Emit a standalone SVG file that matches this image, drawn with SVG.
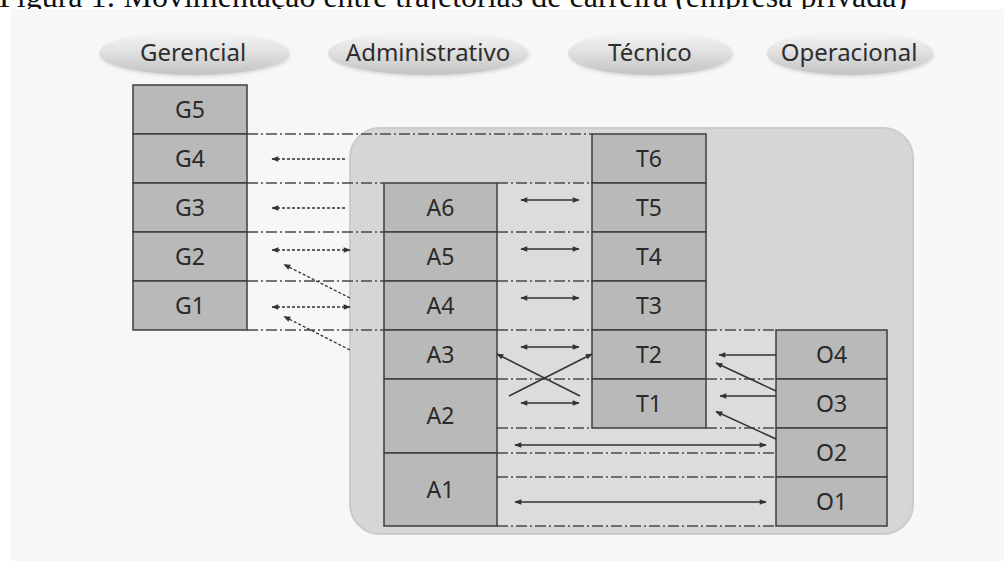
<svg xmlns="http://www.w3.org/2000/svg" width="1004" height="561" viewBox="0 0 1004 561">
<style>
.title{font-family:"Liberation Serif","Times New Roman",serif;font-size:32px;fill:#111}
.hdr{font-family:"Noto Sans","Open Sans",sans-serif;font-size:24px;fill:#2e2e2e;text-anchor:middle}
.lbl{font-family:"Noto Sans","Open Sans",sans-serif;font-size:23px;fill:#2a2a2a;text-anchor:middle}
.box{fill:#b9b9b9;stroke:#3e3e3e;stroke-width:1.5}
.pill{fill:url(#pg)}
.dash{fill:none;stroke:#4a4a4a;stroke-width:1.3;stroke-dasharray:11 3 2 3}
.dot{fill:none;stroke:#333;stroke-width:1.3;stroke-dasharray:3 2}
.sol{fill:none;stroke:#333;stroke-width:1.5}
.corr{fill:#dcdcdc}
</style>
<defs>
<linearGradient id="pg" x1="0" y1="0" x2="0" y2="1">
<stop offset="0" stop-color="#f6f6f6"/>
<stop offset="0.45" stop-color="#e2e2e2"/>
<stop offset="1" stop-color="#c3c3c3"/>
</linearGradient>
<filter id="sh" x="-10%" y="-20%" width="120%" height="150%">
<feGaussianBlur stdDeviation="1.5"/>
</filter>
<marker id="ah" viewBox="0 0 10 10" refX="9" refY="5" markerWidth="8" markerHeight="7" markerUnits="userSpaceOnUse" orient="auto-start-reverse">
<path d="M0,1 L10,5 L0,9 z" fill="#333"/>
</marker>
</defs>

<rect x="0" y="0" width="1004" height="561" fill="#ffffff"/>
<text class="title" x="-1" y="7">Figura 1: Movimentação entre trajetórias de carreira (empresa privada)</text>
<rect x="11" y="9" width="993" height="552" fill="#f7f7f7"/>

<g id="headers">
<g id="h-gerencial">
<ellipse cx="195" cy="55" rx="95" ry="22" fill="#bdbdbd" opacity="0.5" filter="url(#sh)"/>
<ellipse class="pill" cx="194" cy="53" rx="95" ry="22"/>
<text class="hdr" x="193" y="61">Gerencial</text>
</g>
<g id="h-administrativo">
<ellipse cx="429" cy="55" rx="100" ry="22" fill="#bdbdbd" opacity="0.5" filter="url(#sh)"/>
<ellipse class="pill" cx="428" cy="53" rx="100" ry="22"/>
<text class="hdr" x="428" y="61">Administrativo</text>
</g>
<g id="h-tecnico">
<ellipse cx="651" cy="55" rx="82" ry="22" fill="#bdbdbd" opacity="0.5" filter="url(#sh)"/>
<ellipse class="pill" cx="650" cy="53" rx="82" ry="22"/>
<text class="hdr" x="650" y="61">Técnico</text>
</g>
<g id="h-operacional">
<ellipse cx="851" cy="55" rx="83" ry="22" fill="#bdbdbd" opacity="0.5" filter="url(#sh)"/>
<ellipse class="pill" cx="850" cy="53" rx="83" ry="22"/>
<text class="hdr" x="849" y="61">Operacional</text>
</g>
</g>

<g id="background">
<rect x="350" y="128" width="563" height="406" rx="30" fill="#d6d6d6" stroke="#cbcbcb" stroke-width="2"/>
<rect class="corr" x="497" y="183" width="95" height="245"/>
<rect class="corr" x="706" y="330" width="70" height="98"/>
<rect class="corr" x="497" y="428" width="279" height="98"/>
</g>

<g id="gridlines">
<path class="dash" d="M247,134 H592 M247,183 H384 M497,183 H592 M247,232 H384 M497,232 H592 M247,281 H384 M497,281 H592 M247,330 H384 M497,330 H592 M706,330 H776 M497,379 H592 M706,379 H776 M497,428 H592 M706,428 H776 M497,453 H776 M497,477 H776 M497,526 H776"/>
</g>

<g id="node-G5"><rect class="box" x="133" y="85" width="114" height="49"/><text class="lbl" x="190" y="117.5">G5</text></g>
<g id="node-G4"><rect class="box" x="133" y="134" width="114" height="49"/><text class="lbl" x="190" y="166.5">G4</text></g>
<g id="node-G3"><rect class="box" x="133" y="183" width="114" height="49"/><text class="lbl" x="190" y="215.5">G3</text></g>
<g id="node-G2"><rect class="box" x="133" y="232" width="114" height="49"/><text class="lbl" x="190" y="264.5">G2</text></g>
<g id="node-G1"><rect class="box" x="133" y="281" width="114" height="49"/><text class="lbl" x="190" y="313.5">G1</text></g>

<g id="node-A6"><rect class="box" x="384" y="183" width="113" height="49"/><text class="lbl" x="440.5" y="215.5">A6</text></g>
<g id="node-A5"><rect class="box" x="384" y="232" width="113" height="49"/><text class="lbl" x="440.5" y="264.5">A5</text></g>
<g id="node-A4"><rect class="box" x="384" y="281" width="113" height="49"/><text class="lbl" x="440.5" y="313.5">A4</text></g>
<g id="node-A3"><rect class="box" x="384" y="330" width="113" height="49"/><text class="lbl" x="440.5" y="362.5">A3</text></g>
<g id="node-A2"><rect class="box" x="384" y="379" width="113" height="74"/><text class="lbl" x="440.5" y="424">A2</text></g>
<g id="node-A1"><rect class="box" x="384" y="453" width="113" height="73"/><text class="lbl" x="440.5" y="497.5">A1</text></g>

<g id="node-T6"><rect class="box" x="592" y="134" width="114" height="49"/><text class="lbl" x="649" y="166.5">T6</text></g>
<g id="node-T5"><rect class="box" x="592" y="183" width="114" height="49"/><text class="lbl" x="649" y="215.5">T5</text></g>
<g id="node-T4"><rect class="box" x="592" y="232" width="114" height="49"/><text class="lbl" x="649" y="264.5">T4</text></g>
<g id="node-T3"><rect class="box" x="592" y="281" width="114" height="49"/><text class="lbl" x="649" y="313.5">T3</text></g>
<g id="node-T2"><rect class="box" x="592" y="330" width="114" height="49"/><text class="lbl" x="649" y="362.5">T2</text></g>
<g id="node-T1"><rect class="box" x="592" y="379" width="114" height="49"/><text class="lbl" x="649" y="411.5">T1</text></g>

<g id="node-O4"><rect class="box" x="776" y="330" width="111" height="49"/><text class="lbl" x="831.5" y="362.5">O4</text></g>
<g id="node-O3"><rect class="box" x="776" y="379" width="111" height="49"/><text class="lbl" x="831.5" y="411.5">O3</text></g>
<g id="node-O2"><rect class="box" x="776" y="428" width="111" height="49"/><text class="lbl" x="831.5" y="460.5">O2</text></g>
<g id="node-O1"><rect class="box" x="776" y="477" width="111" height="49"/><text class="lbl" x="831.5" y="509.5">O1</text></g>

<g id="connectors">
<line class="dot" x1="345" y1="159" x2="272" y2="159" marker-end="url(#ah)"/>
<line class="dot" x1="345" y1="208" x2="272" y2="208" marker-end="url(#ah)"/>
<line class="dot" x1="272" y1="250" x2="350" y2="250" marker-start="url(#ah)" marker-end="url(#ah)"/>
<line class="dot" x1="350" y1="298" x2="284" y2="264.5" marker-end="url(#ah)"/>
<line class="dot" x1="272" y1="307" x2="350" y2="307" marker-start="url(#ah)" marker-end="url(#ah)"/>
<line class="dot" x1="350" y1="350" x2="284" y2="316.5" marker-end="url(#ah)"/>

<line class="sol" x1="521" y1="200" x2="579" y2="200" marker-start="url(#ah)" marker-end="url(#ah)"/>
<line class="sol" x1="521" y1="249" x2="579" y2="249" marker-start="url(#ah)" marker-end="url(#ah)"/>
<line class="sol" x1="521" y1="298" x2="579" y2="298" marker-start="url(#ah)" marker-end="url(#ah)"/>
<line class="sol" x1="521" y1="347" x2="579" y2="347" marker-start="url(#ah)" marker-end="url(#ah)"/>
<line class="sol" x1="521" y1="403" x2="579" y2="403" marker-start="url(#ah)" marker-end="url(#ah)"/>
<line class="sol" x1="580" y1="396" x2="497" y2="354" marker-end="url(#ah)"/>
<line class="sol" x1="509" y1="396" x2="592" y2="354" marker-end="url(#ah)"/>

<line class="sol" x1="776" y1="355" x2="719" y2="355" marker-end="url(#ah)"/>
<line class="sol" x1="776" y1="391" x2="716" y2="363" marker-end="url(#ah)"/>
<line class="sol" x1="776" y1="396" x2="720" y2="396" marker-end="url(#ah)"/>
<line class="sol" x1="776" y1="439" x2="716" y2="411.5" marker-end="url(#ah)"/>

<line class="sol" x1="515" y1="445" x2="766" y2="445" marker-start="url(#ah)" marker-end="url(#ah)"/>
<line class="sol" x1="515" y1="502" x2="766" y2="502" marker-start="url(#ah)" marker-end="url(#ah)"/>
</g>
</svg>
